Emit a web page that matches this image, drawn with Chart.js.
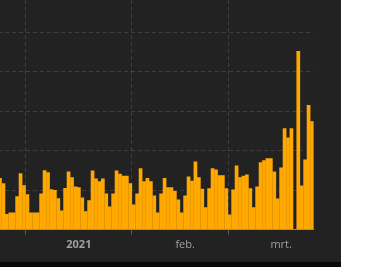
<!DOCTYPE html>
<html>
<head>
<meta charset="utf-8">
<script src="https://cdn.jsdelivr.net/npm/chart.js@4"></script>
<style>
  html, body { margin: 0; padding: 0; background: #ffffff; }
  #panel { position: absolute; left: 0; top: 0; width: 341px; height: 262px; background: #222222; overflow: hidden; }
  #strip { position: absolute; left: 0; top: 262px; width: 341px; height: 5px; background: #0a0a0a; }
  #wrap { position: absolute; left: -3px; top: -7px; width: 318px; height: 261px; }
</style>
</head>
<body>
<div id="panel"><div id="wrap"><canvas id="myChart"></canvas></div></div>
<div id="strip"></div>
<script>
// daily values, 24 dec 2020 .. 25 mrt 2021
var startDate = '2020-12-24';
var dec = [131, 118, 40, 44, 44, 85, 143, 113];
var jan = [90, 44, 44, 44, 92, 151, 146, 103, 101, 80, 49, 106, 148, 133, 110, 108, 82, 47, 75, 150,
           130, 123, 130, 92, 59, 92, 150, 142, 137, 137, 118];
var feb = [64, 92, 156, 123, 131, 123, 87, 44, 92, 131, 108, 108, 98, 77, 44, 87, 135, 124, 173, 133,
           104, 57, 105, 156, 153, 138, 138, 105];
var mar = [39, 102, 163, 133, 137, 140, 105, 57, 110, 171, 176, 181, 181, 148, 79, 158, 257, 234, 257, null,
           453, 112, 178, 316, 275];

var tickDates = ['2021-01-16', '2021-02-16', '2021-03-16'];
var tickTexts = ['2021', 'feb.', 'mrt.'];

var values = dec.concat(jan, feb, mar);

// one label per day
var labels = [];
var d = new Date(startDate + 'T12:00:00Z');
for (var i = 0; i < values.length; i++) {
  labels.push(d.toISOString().slice(0, 10));
  d.setUTCDate(d.getUTCDate() + 1);
}

var gridColor = 'rgba(255,255,255,0.13)';

function isMonthStart(i) {
  return i !== undefined && labels[i] && labels[i].slice(8) === '01';
}

var chart = document.getElementById('myChart').getContext('2d');
var myChart = new Chart(chart, {
  type: 'bar',
  data: {
    labels: labels,
    datasets: [{
      data: values,
      backgroundColor: '#ffa800',
      borderWidth: 0,
      // a little overlap so no seams show between the bars
      barPercentage: 1.08,
      categoryPercentage: 1
    }]
  },
  options: {
    responsive: true,
    maintainAspectRatio: false,
    animation: false,
    layout: { padding: 0 },
    plugins: {
      legend: { display: false },
      tooltip: { enabled: false }
    },
    scales: {
      x: {
        grid: {
          color: function (c) { return isMonthStart(c.index) ? gridColor : 'transparent'; },
          tickColor: function (c) { return isMonthStart(c.index) ? '#5a5a5a' : 'transparent'; },
          tickLength: 5,
          tickBorderDash: []
        },
        border: { display: true, color: '#8a8a8a', width: 1, dash: [4, 3] },
        ticks: {
          autoSkip: false,
          maxRotation: 0,
          minRotation: 0,
          padding: 3,
          color: '#a0a0a0',
          font: function (c) {
            return { family: 'Open Sans', size: 11, weight: labels[c.index] === tickDates[0] ? 'bold' : 'normal' };
          },
          callback: function (v, i) {
            var k = tickDates.indexOf(labels[i]);
            return k >= 0 ? tickTexts[k] : '';
          }
        }
      },
      y: {
        min: 0,
        max: 600,
        ticks: { display: false, stepSize: 100 },
        grid: {
          color: function (c) { return c.tick && c.tick.value === 0 ? 'transparent' : gridColor; },
          drawTicks: false
        },
        border: { display: false, dash: [4, 3] }
      }
    }
  }
});
</script>
</body>
</html>
